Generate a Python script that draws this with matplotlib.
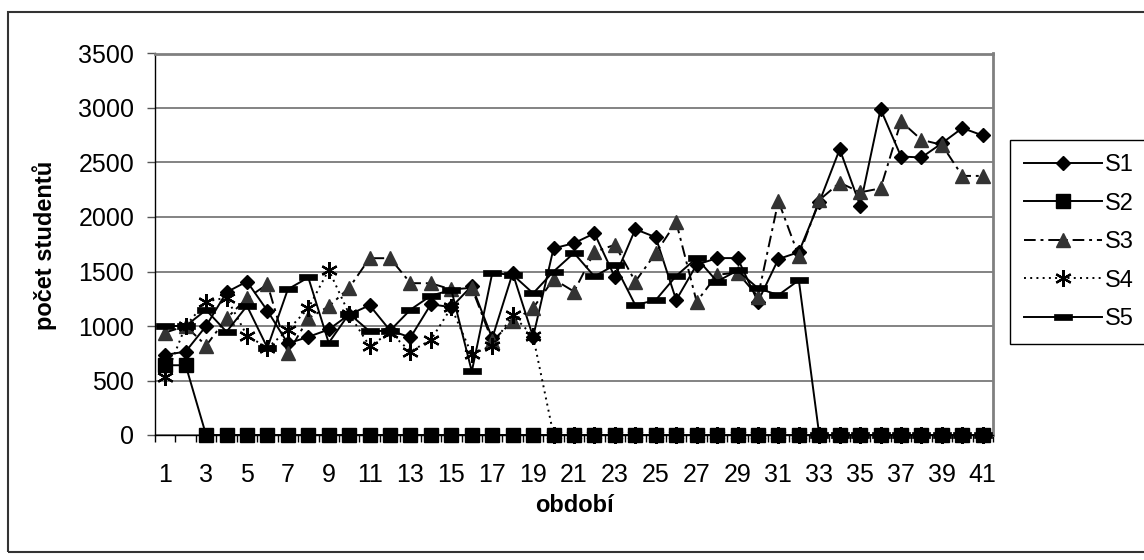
import matplotlib
matplotlib.use("Agg")
import matplotlib.pyplot as plt
from matplotlib.patches import Rectangle
from matplotlib.path import Path
import numpy as np

plt.rcParams['font.family'] = ['Liberation Sans', 'DejaVu Sans']

periods = list(range(1, 42))

s1 = [735, 765, 1000, 1310, 1408, 1140, 840, 900, 968, 1105,
      1190, 960, 895, 1200, 1172, 1368, 888, 1485, 900, 1712,
      1760, 1850, 1448, 1888, 1814, 1238, 1562, 1623, 1623, 1223,
      1614, 1678, 2135, 2622, 2104, 2990, 2555, 2546, 2677, 2816, 2748]
s2 = [640, 640] + [0] * 39
s3 = [940, 1000, 820, 1070, 1255, 1383, 748, 1070, 1180, 1350,
      1622, 1622, 1393, 1392, 1335, 1350, 860, 1045, 1165, 1430,
      1316, 1680, 1745, 1408, 1669, 1953, 1223, 1470, 1490, 1270,
      2147, 1640, 2155, 2315, 2226, 2263, 2877, 2708, 2662, 2377, 2377]
s4 = [530, 1000, 1224, 1260, 912, 800, 963, 1162, 1515, 1110,
      815, 940, 766, 873, 1170, 740, 820, 1100, 905] + [0] * 22
s5 = [1000, 1000, 1147, 947, 1184, 800, 1337, 1445, 845, 1113,
      951, 958, 1150, 1278, 1331, 583, 1485, 1470, 1300, 1500,
      1670, 1455, 1560, 1192, 1238, 1460, 1623, 1408, 1510, 1346,
      1284, 1420] + [0] * 9

series_names = ['S1', 'S2', 'S3', 'S4', 'S5']
y_ticks = [0, 500, 1000, 1500, 2000, 2500, 3000, 3500]
x_labels = [str(i) for i in range(1, 42, 2)]
x_title = 'období'
y_title = 'počet studentů'

W, H = 1144, 560
fig = plt.figure(figsize=(W / 100, H / 100), dpi=100)
fig.patch.set_facecolor('white')

# outer chart frame
fig.patches.append(Rectangle((8 / W, 1 - 552 / H), (1160 - 8) / W, (552 - 12) / H,
                             transform=fig.transFigure, fill=False,
                             edgecolor='#333333', linewidth=1.5, clip_on=False))

L, R, T, B = 155, 993, 53.5, 435
ax = fig.add_axes([L / W, 1 - B / H, (R - L) / W, (B - T) / H])

bar_marker = Path([(-1, -0.3), (1, -0.3), (1, 0.3), (-1, 0.3), (-1, -0.3)],
                  [Path.MOVETO, Path.LINETO, Path.LINETO, Path.LINETO, Path.CLOSEPOLY])

lw = 1.4
styles = [
    dict(color='black', lw=lw, ls='-', marker='D', ms=7.5, mfc='black', mec='black'),
    dict(color='black', lw=lw, ls='-', marker='s', ms=9.5, mfc='black', mec='black'),
    dict(color='black', lw=lw, ls=(0, (6, 2.5, 1.5, 2.5)), marker='^', ms=9.5,
         mfc='#333333', mec='#333333'),
    dict(color='black', lw=lw, ls=(0, (1, 2.2)), marker=(6, 2, 0), ms=12,
         mfc='black', mec='black', mew=1.6),
    dict(color='black', lw=lw, ls='-', marker=bar_marker, ms=12.5, mfc='black', mec='black', mew=0.5),
]
data = [s1, s2, s3, s4, s5]
lines = []
for name, vals, st in zip(series_names, data, styles):
    ln, = ax.plot(periods, vals, label=name, clip_on=False, zorder=3, **st)
    lines.append(ln)

ax.set_xlim(0.5, 41.5)
ax.set_ylim(0, 3500)
ax.set_yticks(y_ticks)
ax.set_yticklabels([str(v) for v in y_ticks])
ax.set_xticks(list(range(1, 42, 2)))
ax.set_xticklabels(x_labels)
ax.set_xticks(np.arange(0.5, 41.6, 1.0), minor=True)
ax.tick_params(axis='x', which='major', length=0, pad=20, labelsize=18)
ax.tick_params(axis='x', which='minor', length=5, width=1, direction='out', color='black')
ax.tick_params(axis='y', which='major', length=6, width=1, direction='out', pad=9,
               labelsize=18, color='#555555')
ax.yaxis.grid(True, color='#6e6e6e', linewidth=1.2, zorder=0)
ax.set_axisbelow(True)
for side in ['top', 'right']:
    ax.spines[side].set_color('#808080')
    ax.spines[side].set_linewidth(2)
ax.spines['left'].set_color('black')
ax.spines['left'].set_linewidth(1)
ax.spines['bottom'].set_color('black')
ax.spines['bottom'].set_linewidth(1)

fig.text(574 / W, 1 - 505 / H, x_title, ha='center', va='center',
         fontsize=17, fontweight='bold')
fig.text(45 / W, 1 - 245 / H, y_title, ha='center', va='center', rotation=90,
         fontsize=17, fontweight='bold')

leg = fig.legend(handles=lines, labels=series_names, loc='upper left',
                 bbox_to_anchor=(1010 / W, 1 - 140 / H), bbox_transform=fig.transFigure,
                 fontsize=17, handlelength=3.3, handletextpad=0.1, labelspacing=0.7,
                 borderpad=0.6, borderaxespad=0, fancybox=False, framealpha=1,
                 edgecolor='black')
leg.get_frame().set_linewidth(1)

fig.savefig('out.png', dpi=100)
